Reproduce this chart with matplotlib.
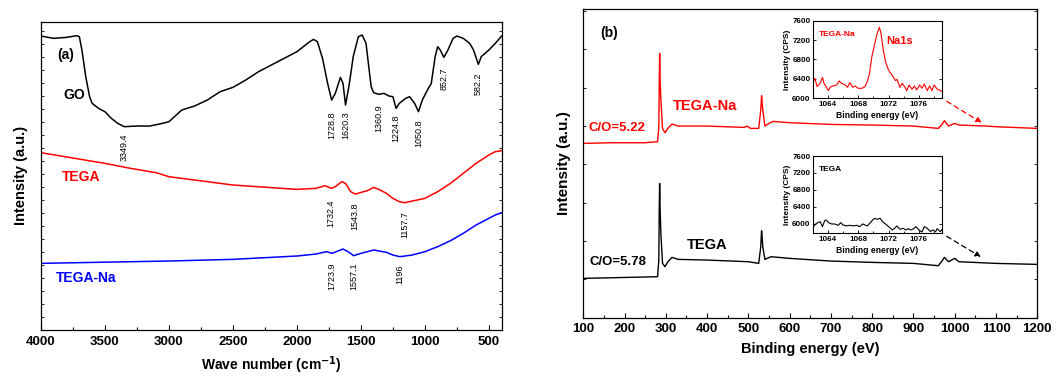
import matplotlib
matplotlib.use("Agg")
import matplotlib.pyplot as plt
from matplotlib.ticker import MultipleLocator, NullFormatter

plt.rcParams['font.family'] = ['Liberation Sans', 'DejaVu Sans']

# ---------------- Panel (a): FTIR ----------------
go_wn = [4000, 3900, 3800, 3720, 3700, 3680, 3650, 3620, 3600, 3550, 3500, 3450, 3400, 3349,
         3250, 3150, 3050, 3000, 2900, 2800, 2700, 2600, 2500, 2400, 2300, 2200, 2100, 2000,
         1950, 1900, 1870, 1840, 1800, 1760, 1729, 1700, 1660, 1640, 1620, 1590, 1560, 1520,
         1490, 1460, 1420, 1400, 1360, 1320, 1280, 1250, 1225, 1200, 1150, 1120, 1080, 1050,
         1020, 980, 950, 920, 900, 880, 852, 820, 780, 750, 700, 650, 620, 582, 560, 500, 450, 400]
go_int = [882, 875, 878, 883, 880, 840, 760, 700, 680, 665, 655, 635, 620, 610,
          612, 612, 620, 625, 660, 672, 690, 715, 728, 750, 775, 795, 815, 835,
          850, 865, 872, 865, 815, 740, 690, 710, 758, 740, 675, 740, 820, 880,
          885, 860, 730, 712, 707, 710, 702, 700, 665, 680, 695, 700, 680, 655,
          690, 720, 740, 820, 850, 840, 818, 840, 875, 882, 875, 860, 840, 797, 820, 840, 860, 882]

tega_wn = [4000, 3500, 3300, 3100, 3000, 2500, 2000, 1850, 1780, 1732, 1700, 1650, 1620, 1580,
           1543, 1450, 1400, 1350, 1300, 1250, 1200, 1157, 1000, 900, 800, 700, 600, 500, 450, 400]
tega_int = [532, 500, 485, 472, 460, 435, 422, 425, 433, 425, 430, 445, 440, 415,
            408, 418, 428, 420, 410, 395, 385, 382, 395, 415, 440, 470, 500, 525, 535, 538]

tegana_wn = [4000, 3000, 2500, 2000, 1850, 1770, 1724, 1680, 1640, 1600, 1557, 1500, 1400,
             1300, 1250, 1196, 1100, 1000, 900, 800, 700, 600, 500, 450, 400]
tegana_int = [200, 207, 212, 222, 228, 235, 230, 237, 243, 235, 223, 230, 240,
              233, 225, 220, 225, 235, 250, 268, 290, 315, 335, 345, 352]

go_peaks = ["3349.4", "1728.8", "1620.3", "1360.9", "1224.8", "1050.8", "852.7", "582.2"]
go_peak_label_y = [547, 615, 615, 635, 605, 590, 755, 740]
tega_peaks = ["1732.4", "1543.8", "1157.7"]
tega_peak_label_y = [350, 340, 315]
tegana_peaks = ["1723.9", "1557.1", "1196"]
tegana_peak_label_y = [162, 160, 168]

# ---------------- Panel (b): XPS survey ----------------
red_be = [100, 170, 250, 280, 283, 284, 285, 286, 288, 292, 298, 305, 315, 330, 400, 490, 497,
          505, 525, 530, 532, 533, 535, 540, 550, 560, 600, 700, 800, 900, 960, 968, 975, 985,
          1000, 1010, 1075, 1100, 1200]
red_int = [523, 525, 525, 528, 573, 700, 793, 720, 653, 568, 555, 568, 581, 575, 575, 571, 575,
           568, 568, 623, 666, 650, 623, 575, 583, 589, 585, 580, 578, 575, 568, 578, 591, 575,
           583, 578, 575, 573, 568]

blk_be = [100, 280, 283, 284, 285, 286, 288, 292, 298, 305, 315, 330, 400, 500, 525, 530, 532,
          533, 535, 540, 555, 600, 700, 800, 900, 960, 968, 975, 985, 1000, 1010, 1100, 1200]
blk_int = [118, 123, 173, 320, 403, 330, 253, 163, 153, 168, 181, 175, 173, 168, 163, 213, 261,
           245, 213, 175, 183, 178, 170, 166, 163, 156, 168, 181, 168, 178, 168, 163, 160]

# Insets (Na1s region)
na_be = [1062.1, 1062.3, 1062.6, 1063.0, 1063.3, 1063.5, 1063.8, 1064.1, 1064.3, 1064.7, 1065.2,
         1065.5, 1065.8, 1066.3, 1066.6, 1066.9, 1067.3, 1067.6, 1068.0, 1068.5, 1068.9, 1069.2,
         1069.5, 1069.8, 1070.1, 1070.5, 1070.8, 1071.0, 1071.3, 1071.6, 1071.9, 1072.2, 1072.6,
         1072.9, 1073.1, 1073.5, 1073.8, 1074.1, 1074.4, 1074.7, 1075.1, 1075.4, 1075.7, 1076.1,
         1076.4, 1076.7, 1077.1, 1077.4, 1077.7, 1078.0, 1078.4, 1078.7, 1079.0]
na_cps_tegana = [6343, 6412, 6240, 6309, 6433, 6309, 6227, 6158, 6227, 6254, 6275,
                 6357, 6309, 6275, 6227, 6323, 6227, 6254, 6206, 6206, 6240, 6343,
                 6515, 6858, 7064, 7339, 7463, 7339, 6996, 6755, 6618, 6529, 6446,
                 6364, 6391, 6227, 6309, 6240, 6158, 6275, 6185, 6254, 6172, 6275,
                 6206, 6295, 6158, 6254, 6158, 6275, 6185, 6172, 6137]

na_be_tega = [1062.1, 1062.4, 1062.7, 1063.0, 1063.3, 1063.6, 1063.8, 1064.1, 1064.5, 1064.9,
              1065.4, 1065.7, 1066.0, 1066.5, 1066.9, 1067.3, 1067.8, 1068.2, 1068.6, 1068.9,
              1069.2, 1069.6, 1069.9, 1070.2, 1070.5, 1070.9, 1071.2, 1071.6, 1072.1, 1072.5,
              1072.8, 1073.1, 1073.5, 1073.9, 1074.3, 1074.6, 1074.9, 1075.2, 1075.6, 1076.1,
              1076.4, 1076.7, 1077.1, 1077.5, 1077.8, 1078.2, 1078.4, 1078.8, 1079.0]
na_cps_tega = [5937, 6000, 6031, 6055, 5937, 6078, 6094, 6031, 6000, 6000,
               5969, 6031, 5976, 5953, 5969, 5953, 5969, 5937, 6000, 5976,
               5953, 6031, 6094, 6133, 6110, 6133, 6055, 6000, 5922, 5859,
               5898, 5953, 5875, 5898, 5859, 5890, 5859, 5875, 5937, 5843,
               5812, 5937, 5898, 5820, 5859, 5820, 5890, 5820, 5859]

fig = plt.figure(figsize=(10.64, 3.76), dpi=100)

# ---- panel (a)
axa = fig.add_axes([0.0385, 0.1223, 0.433, 0.820])
axa.plot(go_wn, go_int, color='black', lw=1.1)
axa.plot(tega_wn, tega_int, color='red', lw=1.1)
axa.plot(tegana_wn, tegana_int, color='blue', lw=1.1)
axa.set_xlim(4000, 400)
axa.set_ylim(0, 925)
axa.xaxis.set_major_locator(MultipleLocator(500))
axa.xaxis.set_minor_locator(MultipleLocator(250))
axa.yaxis.set_major_locator(MultipleLocator(39))
axa.yaxis.set_major_formatter(NullFormatter())
axa.tick_params(axis='both', which='both', direction='in', right=True, top=False)
axa.tick_params(axis='x', which='major', length=3.5, width=0.8, labelsize=9.5, pad=4)
axa.tick_params(axis='x', which='minor', length=2, width=0.8)
axa.tick_params(axis='y', which='major', length=2, width=0.6)
for lab in axa.get_xticklabels():
    lab.set_fontweight('bold')
axa.set_xlabel('Wave number (cm$^{\\mathbf{-1}}$)', fontsize=10, fontweight='bold', labelpad=5)
axa.set_ylabel('Intensity (a.u.)', fontsize=10.5, fontweight='bold', labelpad=6)
for sp in axa.spines.values():
    sp.set_linewidth(0.9)

for labs, ys in ((go_peaks, go_peak_label_y), (tega_peaks, tega_peak_label_y),
                 (tegana_peaks, tegana_peak_label_y)):
    for s, y in zip(labs, ys):
        axa.text(float(s), y, s, rotation=90, ha='center', va='center', fontsize=6.5)

axa.text(3809, 825, '(a)', fontsize=10, fontweight='bold', ha='center', va='center')
axa.text(3739, 705, 'GO', fontsize=10, fontweight='bold', ha='center', va='center', color='black')
axa.text(3684, 458, 'TEGA', fontsize=10, fontweight='bold', ha='center', va='center', color='red')
axa.text(3645, 155, 'TEGA-Na', fontsize=10, fontweight='bold', ha='center', va='center', color='blue')

# ---- panel (b)
axb = fig.add_axes([0.5482, 0.155, 0.4267, 0.820])
axb.plot(red_be, red_int, color='red', lw=1.0)
axb.plot(blk_be, blk_int, color='black', lw=1.0)
axb.set_xlim(100, 1200)
axb.set_ylim(0, 925)
axb.xaxis.set_major_locator(MultipleLocator(100))
axb.xaxis.set_minor_locator(MultipleLocator(50))
axb.yaxis.set_major_locator(MultipleLocator(115))
axb.yaxis.set_major_formatter(NullFormatter())
axb.tick_params(axis='both', which='both', direction='in', right=True, top=False)
axb.tick_params(axis='x', which='major', length=3.5, width=0.8, labelsize=9.5, pad=4)
axb.tick_params(axis='x', which='minor', length=2, width=0.8)
axb.tick_params(axis='y', which='major', length=2.5, width=0.6)
for lab in axb.get_xticklabels():
    lab.set_fontweight('bold')
axb.set_xlabel('Binding energy (eV)', fontsize=10.5, fontweight='bold', labelpad=5)
axb.set_ylabel('Intensity (a.u.)', fontsize=11, fontweight='bold', labelpad=5)
for sp in axb.spines.values():
    sp.set_linewidth(0.9)

axb.text(162, 853, '(b)', fontsize=10, fontweight='bold', ha='center', va='center')
axb.text(395, 635, 'TEGA-Na', fontsize=10.5, fontweight='bold', ha='center', va='center', color='red')
axb.text(182, 570, 'C/O=5.22', fontsize=9.5, fontweight='bold', ha='center', va='center', color='red')
axb.text(399, 217, 'TEGA', fontsize=10.5, fontweight='bold', ha='center', va='center', color='black')
axb.text(185, 168, 'C/O=5.78', fontsize=9.5, fontweight='bold', ha='center', va='center', color='black')


def make_inset(rect, be, cps, color, ylim, name):
    ax = fig.add_axes(rect)
    ax.plot(be, cps, color=color, lw=0.8)
    ax.set_xlim(1062.1, 1079.0)
    ax.set_ylim(*ylim)
    ax.xaxis.set_minor_locator(MultipleLocator(2))
    ax.set_xticks([1064, 1068, 1072, 1076])
    ax.set_yticks([6000, 6400, 6800, 7200, 7600])
    ax.tick_params(axis='both', which='both', direction='in', labelsize=5.8, pad=2, right=True)
    ax.tick_params(which='major', length=2, width=0.6)
    ax.tick_params(which='minor', length=1.2, width=0.6)
    for lab in ax.get_xticklabels() + ax.get_yticklabels():
        lab.set_fontweight('bold')
    ax.set_xlabel('Binding energy (eV)', fontsize=6.2, fontweight='bold', labelpad=2)
    ax.set_ylabel('Intensity (CPS)', fontsize=6, fontweight='bold', labelpad=1)
    for sp in ax.spines.values():
        sp.set_linewidth(0.8)
    ax.text(0.04, 0.80, name, transform=ax.transAxes, fontsize=6, fontweight='bold', color=color)
    return ax


ins1 = make_inset([0.7644, 0.7386, 0.1207, 0.2064], na_be, na_cps_tegana, 'red', (6000, 7600), 'TEGA-Na')
ins1.text(0.57, 0.70, 'Na1s', transform=ins1.transAxes, fontsize=8, fontweight='bold', color='red')
ins2 = make_inset([0.7644, 0.3795, 0.1207, 0.2056], na_be_tega, na_cps_tega, 'black', (5780, 7600), 'TEGA')

axb.annotate('', xy=(1071, 581), xycoords='data', xytext=(1.02, -0.02), textcoords=ins1.transAxes,
             arrowprops=dict(arrowstyle='-|>', color='red', lw=0.9, ls=(0, (4, 3)),
                             mutation_scale=8))
axb.annotate('', xy=(1069, 178), xycoords='data', xytext=(1.02, -0.02), textcoords=ins2.transAxes,
             arrowprops=dict(arrowstyle='-|>', color='black', lw=0.9, ls=(0, (4, 3)),
                             mutation_scale=8))

fig.savefig('out.png', dpi=100)
